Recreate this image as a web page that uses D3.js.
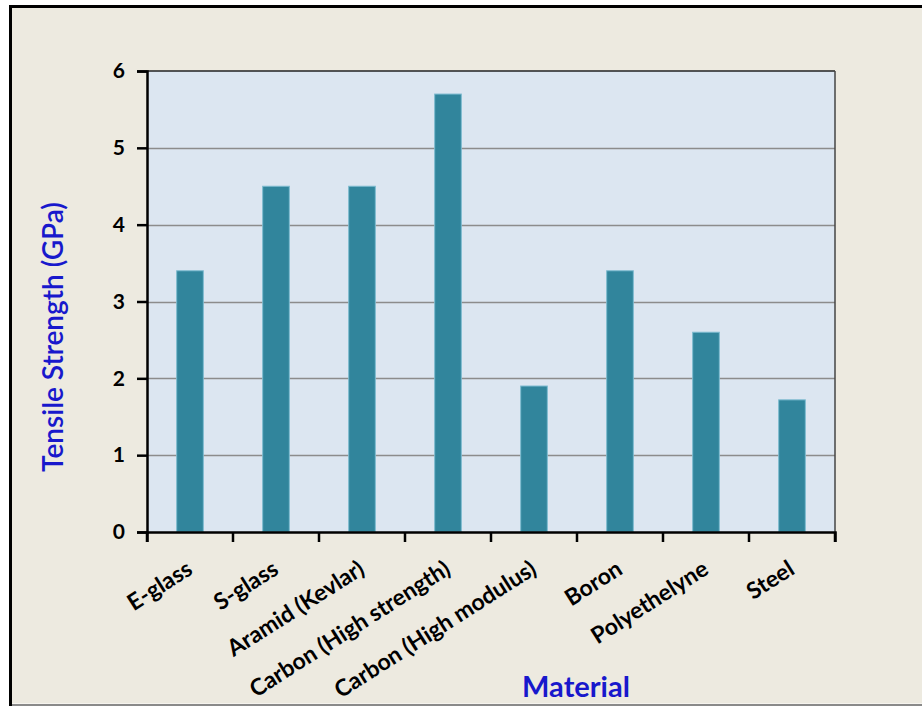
<!DOCTYPE html>
<html>
<head>
<meta charset="utf-8">
<script src="https://cdn.jsdelivr.net/npm/d3@7"></script>
<style>
  html, body { margin: 0; padding: 0; background: #ffffff; }
  svg { display: block; }
</style>
</head>
<body>
<svg id="chart" width="922" height="706"></svg>
<script>
const categories = ["E-glass", "S-glass", "Aramid (Kevlar)", "Carbon (High strength)", "Carbon (High modulus)", "Boron", "Polyethelyne", "Steel"];
const values = [3.4, 4.5, 4.5, 5.7, 1.9, 3.4, 2.6, 1.72];
const yTicks = [0, 1, 2, 3, 4, 5, 6];
const yTitle = "Tensile Strength (GPa)";
const xTitle = "Material";

const svg = d3.select("#chart");
const W = 922, H = 706;
const font = "Lato, 'Open Sans', sans-serif";

// outer frame
svg.append("rect").attr("x", 10.5).attr("y", 6.5).attr("width", W).attr("height", 697)
  .attr("fill", "#EDEAE0").attr("stroke", "none");
svg.append("line").attr("x1", 9).attr("x2", W).attr("y1", 6.5).attr("y2", 6.5).attr("stroke", "#000").attr("stroke-width", 3);
svg.append("line").attr("x1", 10.5).attr("x2", 10.5).attr("y1", 5).attr("y2", 706).attr("stroke", "#000").attr("stroke-width", 3);
svg.append("line").attr("x1", 12).attr("x2", W).attr("y1", 705).attr("y2", 705).attr("stroke", "#8a8a8a").attr("stroke-width", 2);

const plot = { left: 147, top: 71, right: 835, bottom: 532 };

const x = d3.scaleBand().domain(categories).range([plot.left, plot.right])
  .paddingInner(0.69).paddingOuter(0.345);
const xCat = d3.scaleBand().domain(categories).range([plot.left, plot.right]);
const y = d3.scaleLinear().domain([0, 6]).range([plot.bottom, plot.top]);

// plot background
svg.append("rect").attr("x", plot.left).attr("y", plot.top)
  .attr("width", plot.right - plot.left).attr("height", plot.bottom - plot.top)
  .attr("fill", "#DCE6F1");

// gridlines
svg.append("g").selectAll("line").data(yTicks.filter(d => d > 0 && d < 6)).join("line")
  .attr("x1", plot.left).attr("x2", plot.right)
  .attr("y1", d => Math.round(y(d)) + 0.5).attr("y2", d => Math.round(y(d)) + 0.5)
  .attr("stroke", "#8C8C8C").attr("stroke-width", 1.5);

// plot top/right border
svg.append("line").attr("x1", plot.left).attr("x2", plot.right).attr("y1", plot.top).attr("y2", plot.top)
  .attr("stroke", "#222").attr("stroke-width", 1.5);
svg.append("line").attr("x1", plot.right).attr("x2", plot.right).attr("y1", plot.top).attr("y2", plot.bottom)
  .attr("stroke", "#444").attr("stroke-width", 1.5);

// bars
svg.append("g").selectAll("rect").data(values).join("rect")
  .attr("x", (d, i) => x(categories[i]))
  .attr("y", d => y(d))
  .attr("width", x.bandwidth())
  .attr("height", d => plot.bottom - y(d))
  .attr("fill", "#31859C")
  .attr("stroke", "#7DBBD0").attr("stroke-width", 1);

// y axis
const yAxis = d3.axisLeft(y).tickValues(yTicks).tickSize(10).tickPadding(12).tickFormat(d3.format("d"));
const gy = svg.append("g").attr("transform", `translate(${plot.left},0)`).call(yAxis);
gy.select(".domain").attr("stroke", "#000").attr("stroke-width", 2.5);
gy.selectAll(".tick line").attr("stroke", "#000").attr("stroke-width", 2.5);
gy.selectAll(".tick text").attr("fill", "#000").style("font-family", font)
  .style("font-size", "21px").style("font-weight", "bold");

// x axis
const xAxis = d3.axisBottom(xCat).tickSize(10).tickFormat("");
const gx = svg.append("g").attr("transform", `translate(0,${plot.bottom})`).call(xAxis);
gx.selectAll(".tick").remove();
gx.select(".domain").attr("stroke", "#000").attr("stroke-width", 2.5);
// tick marks at category boundaries
const bounds = categories.map(c => xCat(c)).concat([plot.right]);
gx.selectAll(".bt").data(bounds).join("line").attr("class", "bt")
  .attr("x1", d => d).attr("x2", d => d).attr("y1", 0).attr("y2", 10)
  .attr("stroke", "#000").attr("stroke-width", 2.5);

// x tick labels
svg.append("g").selectAll("text").data(categories).join("text")
  .attr("transform", d => `translate(${xCat(d) + xCat.bandwidth() / 2 + 4},${plot.bottom + 41}) rotate(-32.5)`)
  .attr("text-anchor", "end")
  .attr("fill", "#000")
  .style("font-family", font).style("font-size", "23px").style("font-weight", "bold")
  .text(d => d);

// axis titles
svg.append("text")
  .attr("transform", `translate(63,337) rotate(-90)`)
  .attr("text-anchor", "middle")
  .attr("fill", "#1818CC")
  .style("font-family", font).style("font-size", "28px").style("font-weight", "600")
  .text(yTitle);
svg.append("text")
  .attr("x", 576).attr("y", 697)
  .attr("text-anchor", "middle")
  .attr("fill", "#1818CC")
  .style("font-family", font).style("font-size", "29px").style("font-weight", "bold")
  .text(xTitle);
</script>
</body>
</html>
